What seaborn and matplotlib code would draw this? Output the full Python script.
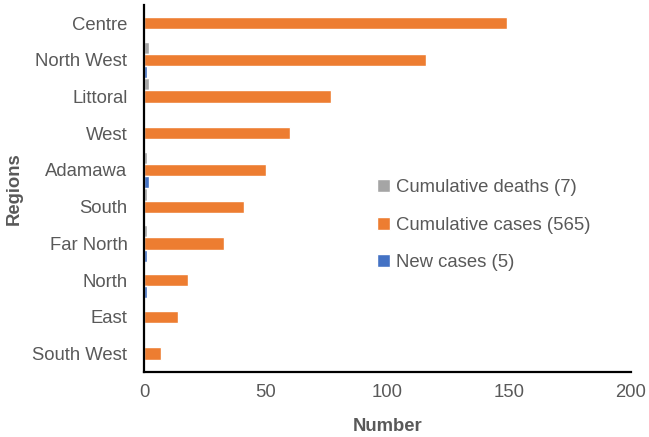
import numpy as np
import pandas as pd
import matplotlib
matplotlib.use("Agg")
import matplotlib.pyplot as plt
import seaborn as sns

regions = ["Centre", "North West", "Littoral", "West", "Adamawa",
           "South", "Far North", "North", "East", "South West"]
deaths = [0, 2, 2, 0, 1, 1, 1, 0, 0, 0]
cases = [149, 116, 77, 60, 50, 41, 33, 18, 14, 7]
new_cases = [0, 1, 0, 0, 2, 0, 1, 1, 0, 0]

series_names = ["Cumulative deaths (7)", "Cumulative cases (565)", "New cases (5)"]
colors = ["#A5A5A5", "#ED7D31", "#4472C4"]
grey_text = "#595959"


def main():
    df = pd.DataFrame({
        "Region": regions * 3,
        "Value": deaths + cases + new_cases,
        "Series": np.repeat(series_names, len(regions)),
    })

    sns.set_style("white")
    plt.rcParams["font.family"] = ["Liberation Sans", "DejaVu Sans"]

    fig = plt.figure(figsize=(6.49, 4.37), dpi=100)
    ax = fig.add_axes([0.222, 0.149, 0.750, 0.840])

    sns.barplot(data=df, y="Region", x="Value", hue="Series", orient="h",
                order=regions, hue_order=series_names, palette=colors,
                width=1.0, saturation=1, ax=ax)

    ax.set_xlim(0, 200)
    ax.set_ylim(9.5, -0.5)
    ax.set_xticks([0, 50, 100, 150, 200])

    for side in ["top", "right"]:
        ax.spines[side].set_visible(False)
    ax.spines["left"].set_color("black")
    ax.spines["left"].set_linewidth(1.6)
    ax.spines["bottom"].set_color("black")
    ax.spines["bottom"].set_linewidth(1.6)

    ax.tick_params(axis="y", which="major", length=0, pad=12,
                   labelsize=13.3, labelcolor=grey_text)
    ax.tick_params(axis="x", which="major", length=0, pad=9,
                   labelsize=13.3, labelcolor=grey_text)
    ax.set_yticks(np.arange(-0.5, 10, 1), minor=True)
    ax.tick_params(axis="y", which="minor", length=5, width=1.4,
                   color="black", direction="out")

    ax.set_xlabel("Number", fontsize=13.3, fontweight="bold", color=grey_text,
                  labelpad=12)
    ax.set_ylabel("Regions", fontsize=13.3, fontweight="bold", color=grey_text,
                  labelpad=7)

    ax.legend(loc="upper left", bbox_to_anchor=(0.445, 0.57), frameon=False,
              fontsize=13.3, labelcolor=grey_text, handlelength=0.7,
              handleheight=0.7, handletextpad=0.3, labelspacing=1.1)

    fig.savefig("out.png", dpi=100)


if __name__ == "__main__":
    main()
